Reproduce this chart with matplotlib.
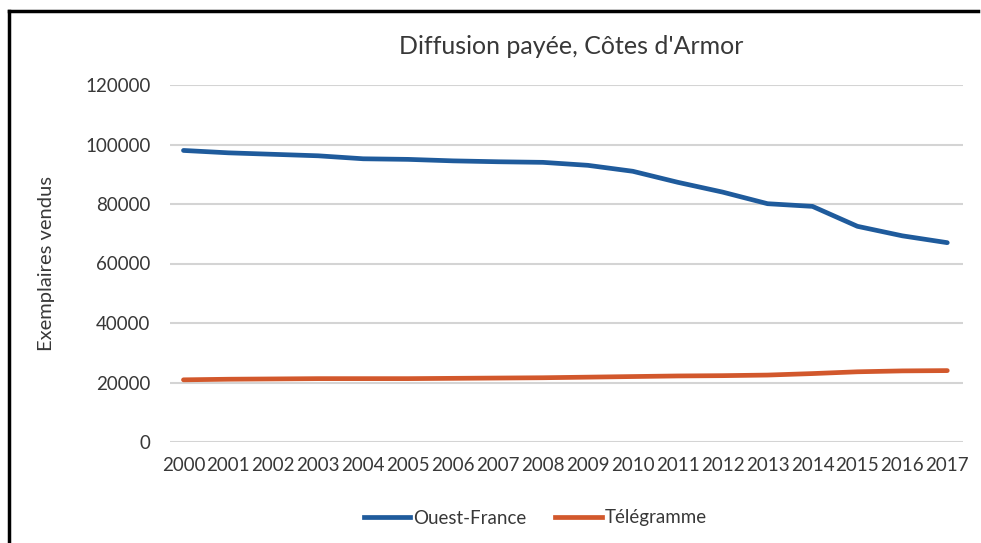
import numpy as np
import matplotlib.pyplot as plt
from matplotlib.lines import Line2D

plt.rcParams['font.family'] = ['Lato', 'DejaVu Sans']

years = [str(y) for y in range(2000, 2018)]
ouest_france = [98000, 97200, 96700, 96200, 95200, 95000, 94500, 94200, 94000,
                93000, 91000, 87300, 84000, 80100, 79200, 72500, 69300, 67000]
telegramme = [20900, 21100, 21200, 21300, 21300, 21300, 21400, 21500, 21600,
              21800, 22000, 22200, 22300, 22500, 23000, 23600, 23900, 24000]

blue = '#1f5b9c'
orange = '#d2582c'
text_col = '#383838'

fig = plt.figure(figsize=(9.81, 5.43), dpi=100)
ax = fig.add_axes([170/981, 1-442/543, (963-170)/981, (442-85)/543])

x = np.arange(len(years))
ax.plot(x, ouest_france, color=blue, lw=3.4, solid_capstyle='round')
ax.plot(x, telegramme, color=orange, lw=3.4, solid_capstyle='round')

ax.set_ylim(0, 120000)
ax.set_yticks(np.arange(0, 120001, 20000))
ax.set_xlim(-0.3, 17.35)
ax.set_xticks(x)
ax.set_xticklabels(years)
ax.grid(axis='y', color='#d4d4d4', lw=1.5)
ax.set_axisbelow(True)
for s in ax.spines.values():
    s.set_visible(False)
ax.tick_params(length=0, labelsize=13.5, labelcolor=text_col)
ax.tick_params(axis='y', pad=14)
ax.tick_params(axis='x', pad=11)

ax.set_ylabel('Exemplaires vendus', fontsize=14.5, color=text_col, labelpad=22)
fig.text(571/981, 1-47/543, "Diffusion payée, Côtes d'Armor", ha='center', va='center',
         fontsize=18, color=text_col)

handles = [Line2D([0], [0], color=blue, lw=3.4), Line2D([0], [0], color=orange, lw=3.4)]
fig.legend(handles, ['Ouest-France', 'Télégramme'], loc='center', bbox_to_anchor=(535/981, 1-518/543),
           ncol=2, frameon=False, fontsize=13.5, handlelength=2.5, handletextpad=0.15, columnspacing=1.5,
           labelcolor=text_col)

# cadre noir (haut et gauche)
fig.add_artist(Line2D([9/981, 9/981], [0, 1-11/543], color='black', lw=2.5, transform=fig.transFigure))
fig.add_artist(Line2D([9/981, 978/981], [1-11/543, 1-11/543], color='black', lw=2.5, transform=fig.transFigure))

fig.savefig('out.png', dpi=100)
